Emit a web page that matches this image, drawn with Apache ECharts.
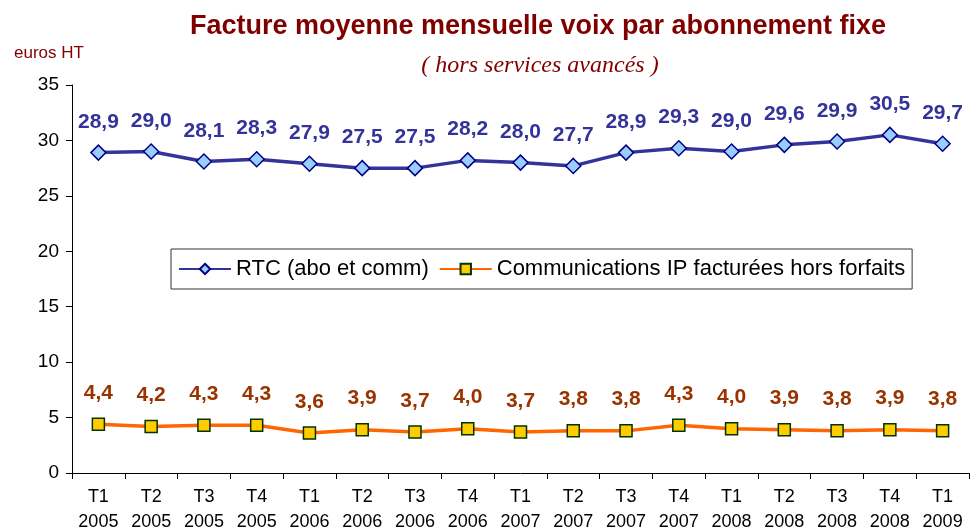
<!DOCTYPE html>
<html><head><meta charset="utf-8">
<script src="https://cdn.jsdelivr.net/npm/echarts@6/dist/echarts.min.js"></script>
<style>html,body{margin:0;padding:0;background:#fff}#c{width:977px;height:530px}</style>
</head><body><div id="c"></div>
<script>
const categories = ["T1\n2005","T2\n2005","T3\n2005","T4\n2005","T1\n2006","T2\n2006","T3\n2006","T4\n2006","T1\n2007","T2\n2007","T3\n2007","T4\n2007","T1\n2008","T2\n2008","T3\n2008","T4\n2008","T1\n2009"];
const rtc = [28.9,29.0,28.1,28.3,27.9,27.5,27.5,28.2,28.0,27.7,28.9,29.3,29.0,29.6,29.9,30.5,29.7];
const ip = [4.4,4.2,4.3,4.3,3.6,3.9,3.7,4.0,3.7,3.8,3.8,4.3,4.0,3.9,3.8,3.9,3.8];
const seriesNames = ["RTC (abo et comm)","Communications IP facturées hors forfaits"];
const fmt = p => p.value.toFixed(1).replace('.', ',');
const chart = echarts.init(document.getElementById('c'));
chart.setOption({
  animation:false,
  title:[
    {text:"Facture moyenne mensuelle voix par abonnement fixe",left:533,top:8,textAlign:'center',
     textStyle:{fontFamily:'Liberation Sans',fontSize:27,fontWeight:'bold',color:'#800000'}},
    {text:"( hors services avancés )",left:535,top:49,textAlign:'center',
     textStyle:{fontFamily:'Liberation Serif',fontSize:24,fontStyle:'italic',fontWeight:'normal',color:'#800000'}},
    {text:"euros HT",left:9,top:40,textStyle:{fontFamily:'Liberation Sans',fontSize:17,fontWeight:'normal',color:'#800000'}}
  ],
  legend:{
    left:171,top:249,width:738,height:41,padding:[9,7],
    borderColor:'#333',borderWidth:1,backgroundColor:'#fff',
    itemWidth:52,itemHeight:13,itemGap:10,
    textStyle:{fontFamily:'Liberation Sans',fontSize:22,color:'#000'},
    data:seriesNames
  },
  grid:{left:72,right:8,top:85,bottom:57,containLabel:false,outerBoundsMode:'none'},
  xAxis:{
    type:'category',data:categories,boundaryGap:true,
    axisLine:{lineStyle:{color:'#000',width:1}},
    axisTick:{show:true,inside:false,length:6,alignWithLabel:false,lineStyle:{color:'#000'}},
    axisLabel:{fontFamily:'Liberation Sans',fontSize:18,color:'#000',lineHeight:25,margin:12,interval:0}
  },
  yAxis:{
    type:'value',min:0,max:35,interval:5,
    axisLine:{show:true,lineStyle:{color:'#000',width:1}},
    axisTick:{show:true,length:6,lineStyle:{color:'#000'}},
    splitLine:{show:false},
    axisLabel:{fontFamily:'Liberation Sans',fontSize:19,color:'#000',margin:13}
  },
  series:[
    {name:seriesNames[0],type:'line',data:rtc,symbol:'diamond',symbolSize:15,
     lineStyle:{color:'#333399',width:3.5},
     itemStyle:{color:'#99CCFF',borderColor:'#000080',borderWidth:1.5},
     label:{show:true,position:'top',distance:12,formatter:fmt,
       fontFamily:'Liberation Sans',fontSize:21,fontWeight:'bold',color:'#333399'}},
    {name:seriesNames[1],type:'line',data:ip,symbol:'rect',symbolSize:12,
     lineStyle:{color:'#FF6600',width:3.5},
     itemStyle:{color:'#FFCC00',borderColor:'#003300',borderWidth:1.5},
     label:{show:true,position:'top',distance:14,formatter:fmt,
       fontFamily:'Liberation Sans',fontSize:21,fontWeight:'bold',color:'#993300'}}
  ]
});
</script></body></html>
